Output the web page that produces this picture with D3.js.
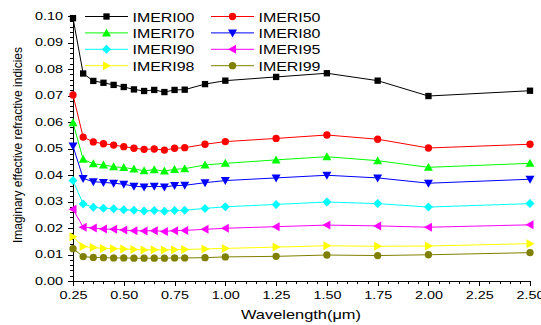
<!DOCTYPE html>
<html>
<head>
<meta charset="utf-8">
<script src="https://cdn.jsdelivr.net/npm/d3@7"></script>
<style>
  body { margin: 0; background: #fff; }
  text { font-family: Arial, "Liberation Sans", sans-serif; fill: #000; }
  .axis path, .axis line { stroke: #000; stroke-width: 1; shape-rendering: crispEdges; }
</style>
</head>
<body>
<div id="chart"></div>
<script>
// wavelength (um)
var wavelengths = [0.25, 0.30, 0.35, 0.40, 0.45, 0.50, 0.55, 0.60, 0.65, 0.70, 0.75, 0.80, 0.90, 1.00, 1.25, 1.50, 1.75, 2.00, 2.50];

var imeri00 = [0.0992, 0.0783, 0.0755, 0.0748, 0.0740, 0.0732, 0.0723, 0.0717, 0.0721, 0.0713, 0.0721, 0.0722, 0.0743, 0.0756, 0.0770, 0.0784, 0.0756, 0.0698, 0.0718];
var imeri50 = [0.0702, 0.0543, 0.0525, 0.0518, 0.0513, 0.0507, 0.0501, 0.0497, 0.0498, 0.0494, 0.0501, 0.0503, 0.0516, 0.0526, 0.0538, 0.0551, 0.0535, 0.0502, 0.0516];
var imeri70 = [0.0597, 0.0459, 0.0442, 0.0438, 0.0431, 0.0428, 0.0423, 0.0416, 0.0420, 0.0415, 0.0421, 0.0424, 0.0438, 0.0444, 0.0457, 0.0469, 0.0454, 0.0429, 0.0444];
var imeri80 = [0.0509, 0.0387, 0.0375, 0.0372, 0.0369, 0.0365, 0.0358, 0.0355, 0.0358, 0.0355, 0.0360, 0.0361, 0.0371, 0.0379, 0.0389, 0.0399, 0.0389, 0.0369, 0.0384];
var imeri90 = [0.0379, 0.0291, 0.0278, 0.0275, 0.0273, 0.0269, 0.0267, 0.0264, 0.0266, 0.0263, 0.0266, 0.0267, 0.0274, 0.0280, 0.0289, 0.0298, 0.0292, 0.0279, 0.0292];
var imeri95 = [0.0271, 0.0203, 0.0200, 0.0196, 0.0195, 0.0192, 0.0190, 0.0189, 0.0190, 0.0187, 0.0190, 0.0191, 0.0195, 0.0199, 0.0205, 0.0211, 0.0208, 0.0203, 0.0212];
var imeri98 = [0.0167, 0.0130, 0.0126, 0.0123, 0.0122, 0.0121, 0.0119, 0.0117, 0.0118, 0.0117, 0.0118, 0.0119, 0.0121, 0.0123, 0.0128, 0.0133, 0.0131, 0.0132, 0.0141];
var imeri99 = [0.0122, 0.0092, 0.0089, 0.0088, 0.0087, 0.0087, 0.0086, 0.0086, 0.0086, 0.0086, 0.0087, 0.0087, 0.0088, 0.0091, 0.0093, 0.0098, 0.0096, 0.0099, 0.0107];

var seriesNames = ["IMERI00", "IMERI50", "IMERI70", "IMERI80", "IMERI90", "IMERI95", "IMERI98", "IMERI99"];
var seriesValues = [imeri00, imeri50, imeri70, imeri80, imeri90, imeri95, imeri98, imeri99];

var xTicks = [0.25, 0.50, 0.75, 1.00, 1.25, 1.50, 1.75, 2.00, 2.25, 2.50];
var yTicks = [0.00, 0.01, 0.02, 0.03, 0.04, 0.05, 0.06, 0.07, 0.08, 0.09, 0.10];

var colors = ["#000000", "#ff0000", "#00ff00", "#0000ff", "#00ffff", "#ff00ff", "#ffff00", "#808000"];
var symbols = ["square", "circle", "up", "down", "diamond", "left", "right", "circle"];

var width = 541, height = 325;

var svg = d3.select("#chart").append("svg")
    .attr("width", width)
    .attr("height", height);

var x = d3.scaleLinear().domain([0.25, 2.5]).range([73, 530]);
var y = d3.scaleLinear().domain([0, 0.1]).range([281, 16]);

// stretch text horizontally to the width seen in the picture
function stretch(sel, len) {
    sel.attr("textLength", len).attr("lengthAdjust", "spacingAndGlyphs");
}

// minor ticks: every 0.05 on x, every 0.002 on y, skipping the majors
var xMinor = d3.range(0, 46)
    .filter(function(i) { return i % 5 !== 0; })
    .map(function(i) { return 0.25 + i * 0.05; });
var yMinor = d3.range(0, 51)
    .filter(function(i) { return i % 5 !== 0; })
    .map(function(i) { return i * 0.002; });

svg.append("g")
    .attr("class", "axis")
    .attr("transform", "translate(0,281)")
    .call(d3.axisBottom(x).tickValues(xMinor).tickSize(3).tickSizeOuter(0).tickFormat(""))
    .select(".domain").remove();

svg.append("g")
    .attr("class", "axis")
    .attr("transform", "translate(73,0)")
    .call(d3.axisLeft(y).tickValues(yMinor).tickSize(3).tickSizeOuter(0).tickFormat(""))
    .select(".domain").remove();

var xAxis = svg.append("g")
    .attr("class", "axis")
    .attr("transform", "translate(0,281)")
    .call(d3.axisBottom(x).tickValues(xTicks).tickSize(5).tickSizeOuter(0).tickPadding(6)
        .tickFormat(d3.format(".2f")));

xAxis.selectAll("text")
    .style("font-size", "10px")
    .call(stretch, 28);

var yAxis = svg.append("g")
    .attr("class", "axis")
    .attr("transform", "translate(73,0)")
    .call(d3.axisLeft(y).tickValues(yTicks).tickSize(5).tickSizeOuter(0).tickPadding(5)
        .tickFormat(d3.format(".2f")));

yAxis.selectAll("text")
    .style("font-size", "10px")
    .call(stretch, 28);

// axis titles
svg.append("text")
    .attr("x", 301)
    .attr("y", 319)
    .attr("text-anchor", "middle")
    .style("font-size", "13px")
    .text("Wavelength(\u03bcm)")
    .call(stretch, 120);

svg.append("text")
    .attr("transform", "translate(22,145) rotate(-90)")
    .attr("text-anchor", "middle")
    .style("font-size", "13px")
    .text("Imaginary effective refractive indicies")
    .call(stretch, 196);

// marker shapes
function markerPath(kind) {
    if (kind === "square") return d3.symbol().type(d3.symbolSquare).size(40)();
    if (kind === "circle") return d3.symbol().type(d3.symbolCircle).size(42)();
    if (kind === "diamond") return "M0,-4.5L4.5,0L0,4.5L-4.5,0Z";
    if (kind === "up") return "M0,-4.5L4.5,3.5L-4.5,3.5Z";
    if (kind === "down") return "M0,4.5L4.5,-3.5L-4.5,-3.5Z";
    if (kind === "left") return "M-4.5,0L3.5,-4.5L3.5,4.5Z";
    if (kind === "right") return "M4.5,0L-3.5,-4.5L-3.5,4.5Z";
}

var line = d3.line()
    .x(function(d) { return x(d[0]); })
    .y(function(d) { return y(d[1]); });

var series = svg.selectAll(".series")
    .data(seriesNames)
    .enter().append("g")
    .attr("class", "series");

series.append("path")
    .attr("fill", "none")
    .attr("stroke", function(d, i) { return colors[i]; })
    .attr("stroke-width", 1)
    .attr("d", function(d, i) {
        return line(wavelengths.map(function(w, j) { return [w, seriesValues[i][j]]; }));
    });

series.each(function(d, i) {
    d3.select(this).selectAll(".pt")
        .data(wavelengths)
        .enter().append("path")
        .attr("class", "pt")
        .attr("transform", function(w, j) { return "translate(" + x(w) + "," + y(seriesValues[i][j]) + ")"; })
        .attr("d", markerPath(symbols[i]))
        .attr("fill", colors[i]);
});

// legend, two columns
var legend = svg.selectAll(".legend")
    .data(seriesNames)
    .enter().append("g")
    .attr("class", "legend")
    .attr("transform", function(d, i) {
        return "translate(" + (i % 2 === 0 ? 85 : 211) + "," + (16.5 + Math.floor(i / 2) * 16.4) + ")";
    });

legend.append("line")
    .attr("x1", 0)
    .attr("x2", 43)
    .attr("stroke", function(d, i) { return colors[i]; })
    .attr("stroke-width", 1);

legend.append("path")
    .attr("transform", "translate(21.5,0)")
    .attr("d", function(d, i) { return markerPath(symbols[i]); })
    .attr("fill", function(d, i) { return colors[i]; });

legend.append("text")
    .attr("x", 47.5)
    .attr("y", 5)
    .style("font-size", "13.5px")
    .text(function(d) { return d; })
    .call(stretch, 62);
</script>
</body>
</html>
